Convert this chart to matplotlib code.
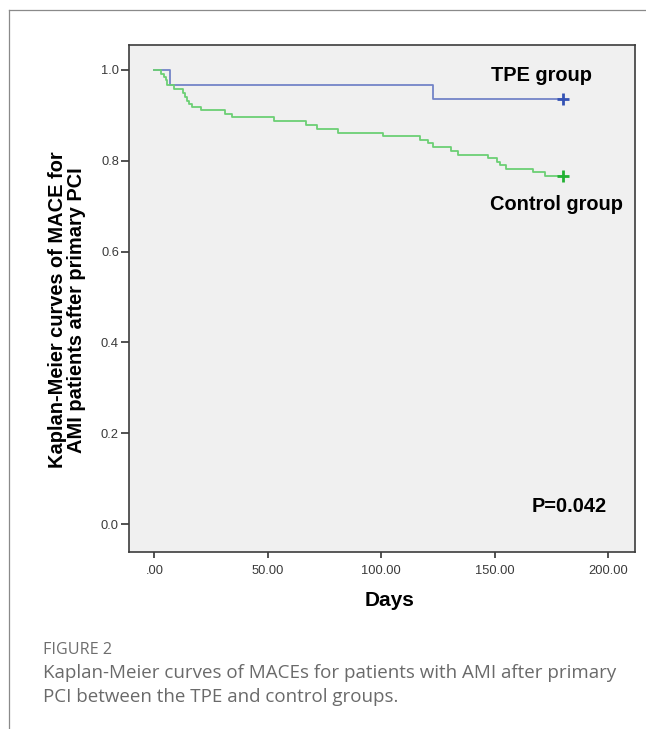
import matplotlib
matplotlib.use("Agg")
import matplotlib.pyplot as plt
from matplotlib.lines import Line2D

# ── Data ─────────────────────────────────────────────────────────────────────
tpe_days = [0.0, 6.9, 122.9]
tpe_surv = [1.0, 0.967, 0.935]
tpe_end = 180.0

ctrl_days = [0.0, 3.0, 4.4, 5.1, 5.6, 8.6, 12.6, 13.7, 14.5, 15.4, 16.7, 20.7,
             30.9, 34.1, 52.9, 67.0, 71.8, 81.0, 100.9, 117.0, 120.7, 122.9,
             130.9, 133.9, 147.1, 150.8, 152.3, 154.9, 166.9, 172.1]
ctrl_surv = [1.0, 0.992, 0.985, 0.977, 0.967, 0.959, 0.950, 0.941, 0.932, 0.925,
             0.918, 0.911, 0.903, 0.896, 0.887, 0.879, 0.871, 0.862, 0.855,
             0.846, 0.839, 0.830, 0.822, 0.813, 0.806, 0.798, 0.790, 0.783,
             0.775, 0.766]
ctrl_end = 180.0

x_ticks = [0, 50, 100, 150, 200]
x_ticklabels = [".00", "50.00", "100.00", "150.00", "200.00"]
y_ticks = [0.0, 0.2, 0.4, 0.6, 0.8, 1.0]
y_ticklabels = ["0.0", "0.2", "0.4", "0.6", "0.8", "1.0"]

CHART_FONT = "Liberation Sans"
CAPTION_FONT = "Open Sans"

W, H = 646, 729
fig = plt.figure(figsize=(W / 100, H / 100), dpi=100)
fig.patch.set_facecolor("white")

# outer page frame (left + top rule)
fig.add_artist(Line2D([9 / W, 9 / W], [0, 1 - 10 / H], transform=fig.transFigure,
                      color="#8a8a8a", lw=0.9))
fig.add_artist(Line2D([9 / W, 1], [1 - 10 / H, 1 - 10 / H], transform=fig.transFigure,
                      color="#8a8a8a", lw=0.9))

ax = fig.add_axes([129.3 / W, (H - 552) / H, (635 - 129.3) / W, (552 - 45) / H])
ax.set_facecolor("#f0f0f0")

# ── KM curves ────────────────────────────────────────────────────────────────
ax.step(tpe_days + [tpe_end], tpe_surv + [tpe_surv[-1]], where="post",
        color="#7384c8", lw=1.3)
ax.step(ctrl_days + [ctrl_end], ctrl_surv + [ctrl_surv[-1]], where="post",
        color="#6ccf74", lw=1.3)
ax.plot([tpe_end], [tpe_surv[-1]], marker="+", ms=9, mew=2, color="#3452b4")
ax.plot([ctrl_end], [ctrl_surv[-1]], marker="+", ms=9, mew=2, color="#22b133")

ax.set_xlim(-11.06, 211.8)
ax.set_ylim(-0.0616, 1.055)
ax.set_xticks(x_ticks)
ax.set_xticklabels(x_ticklabels)
ax.set_yticks(y_ticks)
ax.set_yticklabels(y_ticklabels)
ax.tick_params(direction="out", width=1.2, color="#333333",
               labelcolor="#3a3a3a", labelsize=9.3)
ax.tick_params(axis="y", length=5.5, pad=2)
ax.tick_params(axis="x", length=4.5, pad=5)
for lab in ax.get_xticklabels() + ax.get_yticklabels():
    lab.set_fontfamily(CHART_FONT)
for s in ax.spines.values():
    s.set_color("#3c3c3c")
    s.set_linewidth(1.2)

# ── Labels / annotations ─────────────────────────────────────────────────────
bold = dict(fontfamily=CHART_FONT, fontweight="bold", fontsize=14.4, color="black")
ax.text(148.2, 0.976, "TPE group", va="baseline", **bold)
ax.text(147.9, 0.692, "Control group", va="baseline", **bold)
ax.text(166.2, 0.0255, "P=0.042", va="baseline", **bold)

ax.set_xlabel("Days", fontfamily=CHART_FONT, fontweight="bold", fontsize=15)
ax.xaxis.set_label_coords((389.6 - 129.3) / (635 - 129.3), (552 - 591) / (552 - 45))

fig.text(67 / W, 1 - 310 / H,
         "Kaplan-Meier curves of MACE for\nAMI patients after primary PCI",
         rotation=90, ha="center", va="center", linespacing=0.95, **bold)

# ── Caption ──────────────────────────────────────────────────────────────────
fig.text(43 / W, 1 - 650 / H, "FIGURE 2", fontfamily=CAPTION_FONT, fontsize=11.6,
         color="#6e6e6e", va="center")
fig.text(43 / W, 1 - 673 / H,
         "Kaplan-Meier curves of MACEs for patients with AMI after primary",
         fontfamily=CAPTION_FONT, fontsize=13.5, color="#6a6a6a", va="center")
fig.text(43 / W, 1 - 697 / H, "PCI between the TPE and control groups.",
         fontfamily=CAPTION_FONT, fontsize=13.5, color="#6a6a6a", va="center")

fig.savefig("out.png", dpi=100)
